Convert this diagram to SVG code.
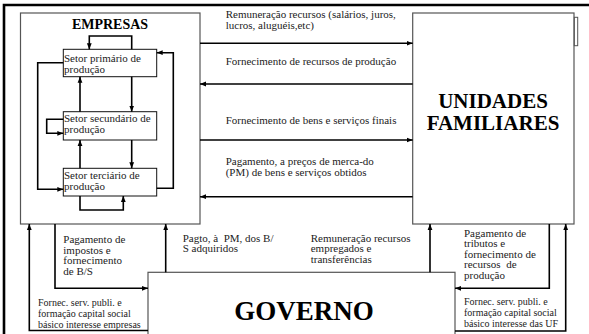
<svg xmlns="http://www.w3.org/2000/svg" width="589" height="334" viewBox="0 0 589 334">
<defs>
<marker id="ah" viewBox="0 0 6 6" refX="6" refY="3" markerWidth="6" markerHeight="6" markerUnits="userSpaceOnUse" orient="auto">
<path d="M0,0.6 L6,3 L0,5.4 Z" fill="#000"/>
</marker>
<style>
.box{fill:#fff;stroke:#555;stroke-width:1.2}
.sbox{fill:#fff;stroke:#111;stroke-width:1}
.c{fill:none;stroke:#000;stroke-width:1.6;marker-end:url(#ah)}
.t{font-family:"Liberation Serif","Times New Roman",serif;font-size:11px;fill:#222}
.ts{font-family:"Liberation Serif","Times New Roman",serif;font-size:10px;fill:#222}
.b{font-family:"Liberation Serif","Times New Roman",serif;font-weight:bold;fill:#000}
</style>
</defs>
<rect width="589" height="334" fill="#fff"/>
<path d="M4,334 V5 H589" fill="none" stroke="#000" stroke-width="2.6"/>

<g id="empresas">
<rect class="box" x="20.5" y="13" width="179.5" height="211"/>
<text class="b" x="110" y="29" font-size="14" text-anchor="middle">EMPRESAS</text>
</g>
<g id="setor-primario">
<rect class="sbox" x="63.3" y="49.3" width="93.4" height="27.4"/>
<text class="t" x="64" y="61.5">Setor primário de</text>
<text class="t" x="64" y="72.5">produção</text>
</g>
<g id="setor-secundario">
<rect class="sbox" x="63.3" y="111.7" width="93.4" height="28.3"/>
<text class="t" x="64" y="121.5">Setor secundário de</text>
<text class="t" x="64" y="132.5">produção</text>
</g>
<g id="setor-terciario">
<rect class="sbox" x="63.3" y="168.3" width="93.4" height="27.7"/>
<text class="t" x="64" y="178.5">Setor terciário de</text>
<text class="t" x="64" y="189.5">produção</text>
</g>
<g id="unidades-familiares">
<rect class="box" x="412.7" y="13" width="161.3" height="211"/>
<rect fill="none" stroke="#555" stroke-width="1" x="574.3" y="17.3" width="3.4" height="28.4"/>
<text class="b" x="493" y="107.5" font-size="21" text-anchor="middle">UNIDADES</text>
<text class="b" x="493" y="129.5" font-size="21" text-anchor="middle">FAMILIARES</text>
</g>
<g id="governo">
<rect class="box" x="148" y="272.3" width="307" height="70"/>
<text class="b" x="304" y="320" font-size="27" text-anchor="middle">GOVERNO</text>
</g>

<g id="connectors">
<path class="c" d="M200,43.3 H412.7"/>
<path class="c" d="M412.7,84 H200"/>
<path class="c" d="M200,140 H412.7"/>
<path class="c" d="M412.7,196.7 H200"/>

<path class="c" d="M131.7,49.3 V36 H89.3 V49.3"/>
<path class="c" d="M156.7,188.3 H173.3 V52.7 H156.7"/>
<path class="c" d="M63.3,62.7 H37.7 V189.3 H63.3"/>
<path class="c" d="M131.7,76.7 V111.7"/>
<path class="c" d="M80,111.7 V76.7"/>
<path class="c" d="M63.3,119.3 H46.7 V133.3 H63.3"/>
<path class="c" d="M131.7,140 V168.3"/>
<path class="c" d="M80,168.3 V140"/>
<path class="c" d="M80,196 V210 H123.3 V196"/>

<path class="c" d="M148,330.5 H29.3 V224"/>
<path class="c" d="M55,224 V288.3 H148"/>
<path class="c" d="M165.7,272.3 V224"/>
<path class="c" d="M430,272.3 V224"/>
<path class="c" d="M549.3,224 V288.3 H455"/>
<path class="c" d="M455,331 H565.7 V224"/>
</g>

<g id="labels">
<text class="t" x="225.7" y="17.5">Remuneração recursos (salários, juros,</text>
<text class="t" x="225.7" y="28.5">lucros, aluguéis,etc)</text>
<text class="t" x="225.7" y="65">Fornecimento de recursos de produção</text>
<text class="t" x="225.7" y="123.5">Fornecimento de bens e serviços finais</text>
<text class="t" x="225.7" y="164.5">Pagamento, a preços de merca-do</text>
<text class="t" x="225.7" y="175.5">(PM) de bens e serviços obtidos</text>

<text class="t" x="63.3" y="243">Pagamento de</text>
<text class="t" x="63.3" y="253.7">impostos e</text>
<text class="t" x="63.3" y="264.4">fornecimento</text>
<text class="t" x="63.3" y="275">de B/S</text>

<text class="t" x="182.7" y="241.5" xml:space="preserve">Pagto, à  PM, dos B/</text>
<text class="t" x="182.7" y="252">S adquiridos</text>

<text class="t" x="310.7" y="241.5">Remuneração recursos</text>
<text class="t" x="310.7" y="252">empregados e</text>
<text class="t" x="310.7" y="262.5">transferências</text>

<text class="t" x="464" y="236.5">Pagamento de</text>
<text class="t" x="464" y="247">tributos e</text>
<text class="t" x="464" y="257.5">fornecimento de</text>
<text class="t" x="464" y="268" xml:space="preserve">recursos  de</text>
<text class="t" x="464" y="278.5">produção</text>

<text class="ts" x="38" y="306">Fornec. serv. publi. e</text>
<text class="ts" x="38" y="317">formação capital social</text>
<text class="ts" x="38" y="328">básico interesse empresas</text>

<text class="ts" x="464" y="305">Fornec. serv. publi. e</text>
<text class="ts" x="464" y="316">formação capital social</text>
<text class="ts" x="464" y="327">básico interesse das UF</text>
</g>
</svg>
